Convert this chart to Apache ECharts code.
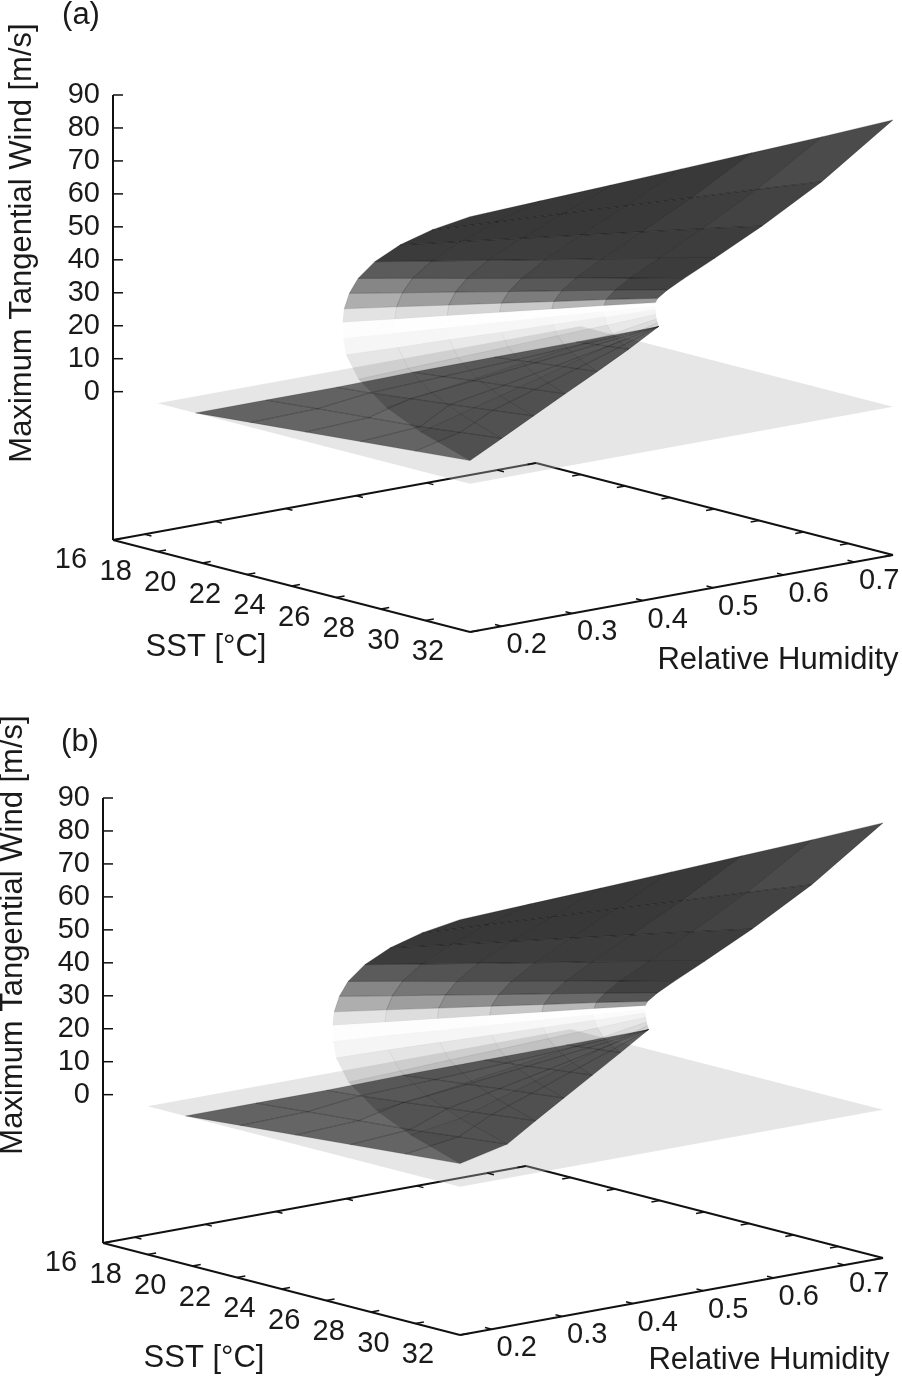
<!DOCTYPE html>
<html>
<head>
<meta charset="utf-8">
<script src="https://cdn.jsdelivr.net/npm/echarts@6/dist/echarts.min.js"></script>
<style>
  html, body { margin: 0; padding: 0; background: #fff; }
  #chart { width: 902px; height: 1379px; }
</style>
</head>
<body>
<div id="chart"></div>
<script>
// ---- axes ----
const sstRange = [16, 32];
const rhRange = [0.155, 0.755];
const windRange = [-45, 90];
const sstTicks = [16, 18, 20, 22, 24, 26, 28, 30, 32];
const rhTicks = [0.2, 0.3, 0.4, 0.5, 0.6, 0.7];
const windTicks = [0, 10, 20, 30, 40, 50, 60, 70, 80, 90];

// zero-wind plane (light grey sheet)
const zeroPlaneSst = [18, 32];

// RH columns along which the solution curves were read
const rhCols = [0.155, 0.255, 0.355, 0.455, 0.555, 0.655, 0.755];

// (a) weak branch
const lowSstA = [
  [19.7, 22.16, 24.62, 27.08, 29.54, 32],
  [19.7, 22.0, 24.3, 26.6, 28.4, 30.26],
  [19.7, 21.2, 23.0, 24.8, 26.7, 28.53],
  [19.95, 21.32, 22.69, 24.05, 25.42, 26.79],
  [20.46, 21.38, 22.30, 23.22, 24.14, 25.06],
  [20.97, 21.44, 21.91, 22.38, 22.85, 23.32],
  [21.5, 21.5, 21.5, 21.5, 21.5, 21.5]
];
const lowWindA = [
  [0, 1.4, 2.8, 4.2, 5.6, 7.0],
  [0, 1.4, 2.7, 4.0, 5.4, 6.8],
  [0, 0.9, 2.3, 3.7, 5.2, 6.7],
  [1.1, 2.2, 3.3, 4.3, 5.4, 6.5],
  [2.7, 3.4, 4.2, 4.9, 5.6, 6.3],
  [4.3, 4.7, 5.1, 5.4, 5.8, 6.2],
  [6, 6, 6, 6, 6, 6]
];
// (a) unstable middle branch
const midSstA = [
  [32, 29.80, 28.26, 27.01, 26.45, 26.32, 26.3],
  [30.26, 28.41, 27.12, 26.08, 25.61, 25.50, 25.48],
  [28.53, 27.04, 25.99, 25.14, 24.76, 24.67, 24.66],
  [26.79, 25.66, 24.86, 24.22, 23.93, 23.86, 23.85],
  [25.06, 24.28, 23.73, 23.28, 23.09, 23.04, 23.03],
  [23.32, 22.89, 22.59, 22.35, 22.24, 22.21, 22.21],
  [21.5, 21.44, 21.40, 21.37, 21.35, 21.35, 21.35]
];
const midWindA = [
  [7, 11.8, 16.6, 23, 29.4, 34.2, 39],
  [6.8, 11.0, 15.2, 20.8, 26.3, 30.5, 34.7],
  [6.7, 10.2, 13.8, 18.5, 23.3, 26.8, 30.4],
  [6.5, 9.4, 12.4, 16.3, 20.2, 23.2, 26.1],
  [6.3, 8.7, 11.0, 14.1, 17.2, 19.5, 21.8],
  [6.2, 7.9, 9.6, 11.8, 14.1, 15.8, 17.5],
  [6, 7.1, 8.1, 9.5, 10.9, 12.0, 13]
];
// (b) weak branch
const lowSstB = [
  [19.7, 22.16, 24.62, 27.08, 29.54, 32],
  [19.7, 22.0, 24.3, 26.6, 28.78, 30.96],
  [19.7, 21.2, 23.17, 25.14, 27.1, 29.07],
  [19.95, 21.40, 22.84, 24.29, 25.73, 27.18],
  [20.46, 21.43, 22.39, 23.36, 24.32, 25.29],
  [20.97, 21.46, 21.94, 22.43, 22.91, 23.4],
  [21.5, 21.5, 21.5, 21.5, 21.5, 21.5]
];
const lowWindB = [
  [0, 1.4, 2.8, 4.2, 5.6, 7.0],
  [0, 1.4, 2.7, 4.0, 5.6, 7.2],
  [0, 0.9, 2.4, 4.0, 5.5, 7.1],
  [1.1, 2.3, 3.4, 4.6, 5.7, 6.8],
  [2.7, 3.5, 4.2, 5.0, 5.8, 6.5],
  [4.3, 4.7, 5.1, 5.5, 5.8, 6.2],
  [6, 6, 6, 6, 6, 6]
];
// (b) unstable middle branch
const midSstB = [
  [32, 29.80, 28.26, 27.01, 26.45, 26.32, 26.3],
  [30.96, 28.84, 27.36, 26.16, 25.63, 25.50, 25.48],
  [29.07, 27.37, 26.17, 25.21, 24.78, 24.68, 24.66],
  [27.18, 25.89, 24.99, 24.27, 23.94, 23.86, 23.85],
  [25.29, 24.42, 23.81, 23.31, 23.09, 23.04, 23.03],
  [23.4, 22.94, 22.62, 22.36, 22.24, 22.21, 22.21],
  [21.5, 21.44, 21.40, 21.37, 21.35, 21.35, 21.35]
];
const midWindB = [
  [7, 11.8, 16.6, 23, 29.4, 34.2, 39],
  [7.2, 11.3, 15.5, 21.0, 26.5, 30.6, 34.7],
  [7.1, 10.6, 14.1, 18.8, 23.4, 26.9, 30.4],
  [6.8, 9.7, 12.6, 16.5, 20.3, 23.2, 26.1],
  [6.5, 8.8, 11.1, 14.2, 17.2, 19.5, 21.8],
  [6.2, 7.9, 9.6, 11.9, 14.1, 15.8, 17.5],
  [6, 7.1, 8.1, 9.5, 10.9, 12.0, 13]
];
// upper (mature) branch, shared by both panels
const upSst = [
  [26.3, 26.36, 26.59, 26.98, 27.73, 28.87, 30.29, 32],
  [25.48, 25.55, 25.81, 26.26, 27.11, 28.41, 30.04, 32],
  [24.66, 24.73, 25.03, 25.54, 26.50, 27.96, 29.80, 32],
  [23.85, 23.93, 24.26, 24.83, 25.89, 27.52, 29.56, 32],
  [23.03, 23.12, 23.48, 24.11, 25.27, 27.07, 29.31, 32],
  [22.21, 22.31, 22.70, 23.38, 24.66, 26.62, 29.06, 32],
  [21.35, 21.46, 21.88, 22.63, 24.01, 26.14, 28.81, 32]
];
const upWind = [
  [39, 43.2, 48.3, 53.5, 59.9, 67.0, 74.0, 81.0],
  [34.7, 38.5, 43.2, 48.4, 55.1, 63.3, 72.1, 81.9],
  [30.4, 33.7, 38.2, 43.2, 50.4, 59.6, 70.3, 82.8],
  [26.1, 29.0, 33.1, 38.1, 45.6, 55.9, 68.4, 83.8],
  [21.8, 24.2, 28.1, 33.0, 40.9, 52.2, 66.5, 84.8],
  [17.5, 19.5, 23.0, 27.9, 36.1, 48.5, 64.7, 85.8],
  [13, 14.5, 17.7, 22.5, 31.1, 44.6, 62.7, 87.0]
];

// ---- view (gnuplot-like oblique box, lengths in px) ----
const FONT = '"Liberation Sans", Arial, Helvetica, sans-serif';
const BOX = { sx: 357, sy: 92, rx: 423, ry: 77, zh: 445 };
const GRID_W = BOX.sx + BOX.rx;
const GRID_H = BOX.sy + BOX.zh;
// how dark a cell gets from its dot density (low, middle, upper branch)
const DOT_DENSITY = 5500;
const BRANCH_GAIN = [0.85, 0.45, 2.2];
const BRANCH_CAP = [0.7, 0.35, 0.78];

function project(s, r, z) {
  const u = (s - sstRange[0]) / (sstRange[1] - sstRange[0]);
  const v = (r - rhRange[0]) / (rhRange[1] - rhRange[0]);
  const w = (z - windRange[0]) / (windRange[1] - windRange[0]);
  return [BOX.sx * u + BOX.rx * v, BOX.sy * (1 - u) + BOX.ry * v + BOX.zh * w];
}

function shoelace(p) {
  let a = 0;
  for (let k = 0; k < p.length; k++) {
    const q = p[(k + 1) % p.length];
    a += p[k][0] * q[1] - q[0] * p[k][1];
  }
  return a / 2;
}

const panels = [
  {
    left: 113, top: 95,
    branches: [
      { sst: lowSstA, wind: lowWindA },
      { sst: midSstA, wind: midWindA },
      { sst: upSst, wind: upWind }
    ]
  },
  {
    left: 103, top: 798,
    branches: [
      { sst: lowSstB, wind: lowWindB },
      { sst: midSstB, wind: midWindB },
      { sst: upSst, wind: upWind }
    ]
  }
];

const grids = [], xAxes = [], yAxes = [], series = [];

panels.forEach(function (pn, p) {
  grids.push({ left: pn.left, top: pn.top, width: GRID_W, height: GRID_H });
  xAxes.push({ gridIndex: p, type: 'value', min: 0, max: GRID_W, show: false });
  yAxes.push({ gridIndex: p, type: 'value', min: 0, max: GRID_H, show: false });
  const base = { type: 'custom', coordinateSystem: 'cartesian2d', xAxisIndex: p, yAxisIndex: p, clip: false, silent: true, animation: false };
  const P = (api, s, r, z) => api.coord(project(s, r, z));
  const line = (a, b, w) => ({ type: 'line', shape: { x1: a[0], y1: a[1], x2: b[0], y2: b[1] }, style: { stroke: '#111', lineWidth: w || 2 } });
  const label = (x, y, text, align) => ({
    type: 'text', x: x, y: y,
    style: { text: text, fill: '#1a1a1a', font: '29px ' + FONT, align: align || 'center', verticalAlign: 'middle' }
  });

  // border box
  series.push(Object.assign({}, base, {
    z: 1, data: [[0, 0]],
    renderItem: function (params, api) {
      const z0 = windRange[0];
      const a = P(api, sstRange[0], rhRange[0], z0), b = P(api, sstRange[1], rhRange[0], z0);
      const c = P(api, sstRange[1], rhRange[1], z0), d = P(api, sstRange[0], rhRange[1], z0);
      const top = P(api, sstRange[0], rhRange[0], windRange[1]);
      return { type: 'group', children: [line(a, b), line(b, c), line(c, d), line(d, a), line(a, top)] };
    }
  }));

  // SST ticks + labels
  series.push(Object.assign({}, base, {
    z: 4, data: sstTicks.map(v => [v, 0]),
    renderItem: function (params, api) {
      const s = api.value(0), z0 = windRange[0], t = 0.012;
      const f = P(api, s, rhRange[0], z0), fi = P(api, s, rhRange[0] + t, z0);
      const k = P(api, s, rhRange[1], z0), ki = P(api, s, rhRange[1] - t, z0);
      return { type: 'group', children: [line(f, fi, 1.5), line(k, ki, 1.5), label(f[0] - 42, f[1] + 20, String(s))] };
    }
  }));

  // RH ticks + labels
  series.push(Object.assign({}, base, {
    z: 4, data: rhTicks.map(v => [v, 0]),
    renderItem: function (params, api) {
      const r = api.value(0), z0 = windRange[0], t = 0.3;
      const f = P(api, sstRange[1], r, z0), fi = P(api, sstRange[1] - t, r, z0);
      const k = P(api, sstRange[0], r, z0), ki = P(api, sstRange[0] + t, r, z0);
      return { type: 'group', children: [line(f, fi, 1.5), line(k, ki, 1.5), label(f[0] + 25, f[1] + 19, r.toFixed(1))] };
    }
  }));

  // wind ticks + labels
  series.push(Object.assign({}, base, {
    z: 4, data: windTicks.map(v => [v, 0]),
    renderItem: function (params, api) {
      const zv = api.value(0);
      const a = P(api, sstRange[0], rhRange[0], zv);
      return { type: 'group', children: [line(a, [a[0] + 10, a[1]], 1.5), label(a[0] - 13, a[1], String(zv), 'right')] };
    }
  }));

  // zero plane
  series.push(Object.assign({}, base, {
    z: 2, data: [[zeroPlaneSst[0], zeroPlaneSst[1]]],
    renderItem: function (params, api) {
      const s0 = api.value(0), s1 = api.value(1);
      const pts = [P(api, s0, rhRange[0], 0), P(api, s1, rhRange[0], 0), P(api, s1, rhRange[1], 0), P(api, s0, rhRange[1], 0)];
      return { type: 'polygon', shape: { points: pts }, style: { fill: 'rgba(185,185,185,0.36)' } };
    }
  }));

  // solution surfaces: shade each cell by how densely its grid points would pile up on screen
  const cells = [];
  pn.branches.forEach(function (br, b) {
    for (let j = 0; j < rhCols.length - 1; j++) {
      for (let i = 0; i < br.sst[j].length - 1; i++) cells.push([j, i, b]);
    }
  });
  series.push(Object.assign({}, base, {
    z: 3, data: cells,
    renderItem: function (params, api) {
      const j = api.value(0), i = api.value(1), b = api.value(2), br = pn.branches[b];
      const corners = [[j, i], [j, i + 1], [j + 1, i + 1], [j + 1, i]].map(function (ci) {
        return [br.sst[ci[0]][ci[1]], rhCols[ci[0]], br.wind[ci[0]][ci[1]]];
      });
      const px = corners.map(c => P(api, c[0], c[1], c[2]));
      const aPx = Math.abs(shoelace(px));
      const aSr = Math.abs(shoelace(corners.map(c => [c[0], c[1]])));
      if (aPx < 0.05) return null;
      const alpha = Math.min(BRANCH_CAP[b], 1 - Math.exp(-DOT_DENSITY * BRANCH_GAIN[b] * aSr / Math.max(aPx, 1)));
      const col = 'rgba(0,0,0,' + alpha.toFixed(3) + ')';
      return { type: 'polygon', shape: { points: px }, style: { fill: col, stroke: col, lineWidth: 0.3 } };
    }
  }));
});

const titleStyle = (text, size) => ({ text: text, fill: '#1a1a1a', font: size + 'px ' + FONT, align: 'center', verticalAlign: 'middle' });
const graphic = [
  { type: 'text', x: 81, y: 15, style: titleStyle('(a)', 31) },
  { type: 'text', x: 22, y: 243, rotation: Math.PI / 2, style: titleStyle('Maximum Tangential Wind [m/s]', 31) },
  { type: 'text', x: 206, y: 647, style: titleStyle('SST [°C]', 31) },
  { type: 'text', x: 778, y: 660, style: titleStyle('Relative Humidity', 31) },
  { type: 'text', x: 80, y: 742, style: titleStyle('(b)', 31) },
  { type: 'text', x: 13, y: 935, rotation: Math.PI / 2, style: titleStyle('Maximum Tangential Wind [m/s]', 31) },
  { type: 'text', x: 204, y: 1358, style: titleStyle('SST [°C]', 31) },
  { type: 'text', x: 769, y: 1360, style: titleStyle('Relative Humidity', 31) }
];

const chart = echarts.init(document.getElementById('chart'));
chart.setOption({
  animation: false,
  backgroundColor: '#fff',
  grid: grids,
  xAxis: xAxes,
  yAxis: yAxes,
  graphic: graphic,
  series: series
});
window.addEventListener('resize', function () { chart.resize(); });
</script>
</body>
</html>
